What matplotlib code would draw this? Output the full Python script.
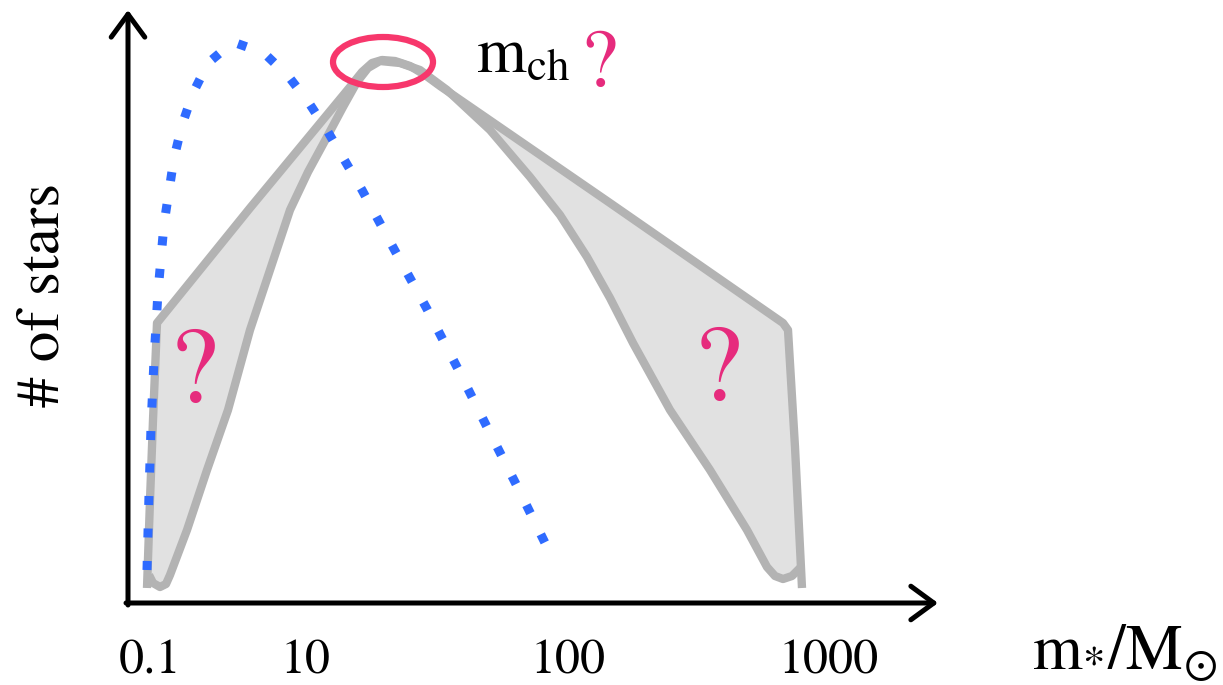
"""Schematic IMF sketch: number of stars vs stellar mass, with the uncertain
first-star mass function as a shaded band and the present-day IMF dotted."""

import matplotlib
matplotlib.use("Agg")
import matplotlib.pyplot as plt
import numpy as np
from matplotlib.patches import Ellipse

plt.rcParams["mathtext.fontset"] = "stix"
SERIF = ["STIXGeneral", "Liberation Serif", "DejaVu Serif"]

# Sketch coordinates (x to the right, y measured downward from the top edge)
upper_x = [147, 150, 153, 157, 250, 350, 362, 372, 382, 395, 410, 425, 440,
           610, 783, 788, 795, 802]
upper_y = [588, 500, 420, 323, 208, 87, 72, 63, 60, 61, 66, 75, 86,
           203, 323, 330, 447, 588]

lower_x = [149, 153, 160, 166, 170, 187, 207, 228, 250, 270, 290, 308, 327,
           343, 357, 368, 380, 400, 420, 447, 490, 530, 560, 587, 610, 633,
           670, 710, 747, 767, 775, 783, 792, 800]
lower_y = [575, 583, 587, 584, 575, 530, 470, 410, 330, 270, 210, 172, 137,
           107, 82, 68, 61, 63, 70, 90, 130, 177, 215, 257, 298, 343,
           410, 470, 530, 567, 576, 579, 576, 568]

# Present-day IMF (dotted)
salpeter_x = [147, 149, 151, 154, 158, 164, 169, 174, 182, 193, 208, 233,
              264, 289, 309, 328, 362, 394, 427, 458, 488, 519, 549, 553]
salpeter_y = [570, 495, 427, 360, 292, 224, 191, 158, 125, 93, 63, 42,
              53, 77, 103, 132, 190, 249, 309, 369, 429, 490, 551, 557]

tick_pos = [150, 305, 568, 829]
tick_labels = ["0.1", "10", "100", "1000"]

GRAY_EDGE = "#b3b3b3"
GRAY_FILL = "#e1e1e1"
BLUE = "#2f6bff"
PINK = "#e62b7d"
RING = "#f7376c"

fig = plt.figure(figsize=(12.23, 6.85), dpi=100)
ax = fig.add_axes([0, 0, 1, 1])
ax.set_xlim(0, 1223)
ax.set_ylim(685, 0)
ax.axis("off")

# shaded band of possible Pop III mass functions
band_x = np.r_[upper_x, lower_x[::-1]]
band_y = np.r_[upper_y, lower_y[::-1]]
ax.fill(band_x, band_y, color=GRAY_FILL, lw=0, zorder=1)
for xs, ys in [(upper_x, upper_y), (lower_x, lower_y)]:
    ax.plot(xs, ys, color=GRAY_EDGE, lw=6, solid_joinstyle="round",
            solid_capstyle="butt", zorder=2)

ax.plot(salpeter_x, salpeter_y, color=BLUE, lw=6.5,
        linestyle=(0, (1, 2.6)), dash_capstyle="butt", zorder=3)

# characteristic-mass ring at the peak
ax.add_patch(Ellipse((383, 62), 100, 50, fill=False, ec=RING, lw=4.5, zorder=4))

# axes arrows
arrow = dict(arrowstyle="->, head_length=0.75, head_width=0.55",
             mutation_scale=22, color="black", lw=3.6, shrinkA=0, shrinkB=0)
ax.annotate("", xy=(128, 10), xytext=(128, 605), arrowprops=arrow)
ax.annotate("", xy=(938, 603), xytext=(126, 603), arrowprops=arrow)

for x, lab in zip(tick_pos, tick_labels):
    ax.text(x, 673, lab, ha="center", va="baseline", fontsize=36, family=SERIF)

ax.text(1125, 670, r"$\mathrm{m}_{*}/\mathrm{M}_{\odot}$", ha="center",
        va="baseline", fontsize=46)
ax.text(44, 295, "# of stars", rotation=90, ha="center", va="center",
        fontsize=44, family=SERIF)

ax.text(476, 72, r"$\mathrm{m}_{\mathrm{ch}}$", ha="left", va="baseline",
        fontsize=46)
ax.text(599, 86, "?", ha="center", va="baseline", fontsize=60,
        color=PINK, family=SERIF)
ax.text(194, 402, "?", ha="center", va="baseline", fontsize=78,
        color=PINK, family=SERIF)
ax.text(718, 400, "?", ha="center", va="baseline", fontsize=78,
        color=PINK, family=SERIF)

fig.savefig("out.png", dpi=100)
